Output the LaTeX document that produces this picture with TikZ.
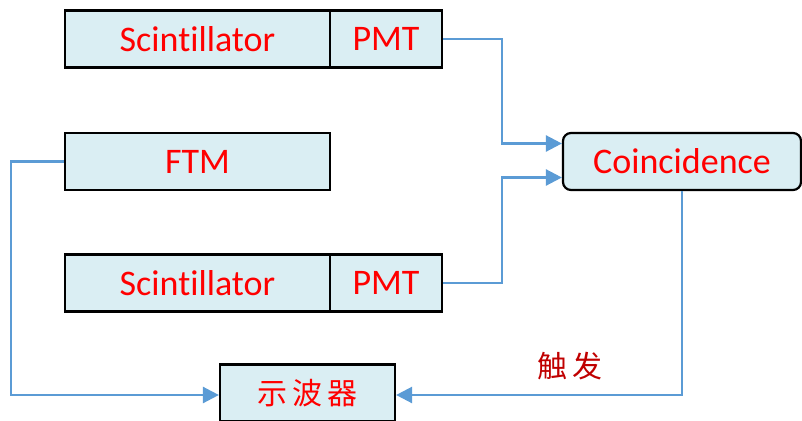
\documentclass[tikz,border=0pt]{standalone}
\usepackage{fontspec}
\setmainfont{Carlito}[Ligatures=NoCommon]
\newfontfamily\cjk{Noto Sans CJK SC}
\usetikzlibrary{arrows.meta}
\definecolor{boxfill}{HTML}{DAEEF3}
\definecolor{linkblue}{HTML}{5B9BD5}
\definecolor{trigred}{HTML}{C00000}
\begin{document}
\begin{tikzpicture}[x=1pt,y=-1pt,
  box/.style={draw=black,line width=2.2pt,fill=boxfill,text=red,inner sep=0pt,
    font=\fontsize{36}{40}\selectfont,minimum height=57pt},
  link/.style={draw=linkblue,line width=2.5pt,-{Triangle[length=16pt,width=16pt]}}]
\useasboundingbox (0,0) rectangle (802,420);
  \node[box,minimum width=265pt] (sciA) at (197.5,39) {Scintillator};
  \node[box,minimum width=112pt] (pmtA) at (386,39) {PMT};
  \node[box,minimum width=265pt] (ftm) at (197.5,161.5) {FTM};
  \node[box,minimum width=265pt] (sciB) at (197.5,283) {Scintillator};
  \node[box,minimum width=112pt] (pmtB) at (386,283) {PMT};
  \node[box,minimum width=238pt,rounded corners=8pt] (coin) at (682,161.5) {Coincidence};
  \node[box,minimum width=175pt,font=\cjk\fontsize{30}{34}\selectfont] (osc) at (307.5,393) {示\,波\,器};
  \node[text=trigred,font=\cjk\fontsize{30}{34}\selectfont] (trig) at (570,366) {触\,发};
  \draw[link] (pmtA.east) -- ++(59,0) |- ([yshift=18pt]coin.west);
  \draw[link] (pmtB.east) -- ++(59,0) |- ([yshift=-16pt]coin.west);
  \draw[link] (ftm.west) -- ++(-53,0) |- ([yshift=-2pt]osc.west);
  \draw[link] (coin.south) |- ([yshift=-2pt]osc.east);
\end{tikzpicture}
\end{document}
